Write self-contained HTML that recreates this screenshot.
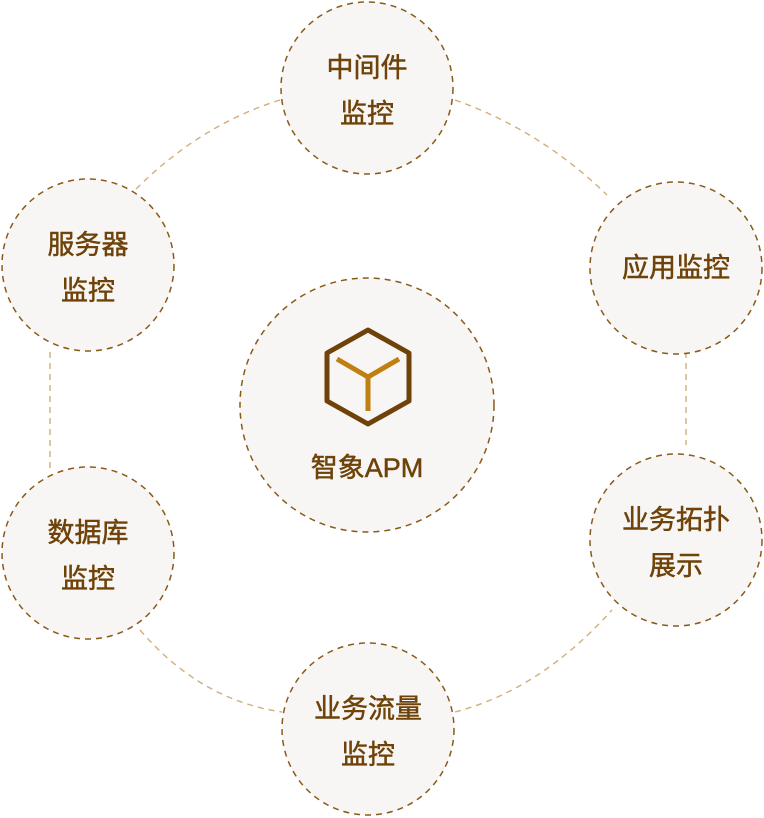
<!DOCTYPE html>
<html><head><meta charset="utf-8"><style>
body{margin:0;background:#fff;width:764px;height:818px;overflow:hidden}
svg{display:block}
text{font-family:"Liberation Sans","Noto Sans CJK SC",sans-serif;fill:#6e4208;font-size:27px;text-anchor:middle;stroke:#6e4208;stroke-width:0.5}
</style></head><body>
<svg width="764" height="818" viewBox="0 0 764 818">
<g fill="none" stroke="#d2ae78" stroke-width="1.4" stroke-dasharray="6 5">
<path d="M280 100 Q200 125 135 190"/>
<path d="M455 100 Q540 130 607 195"/>
<path d="M686 352 L686 445"/>
<path d="M50 352 L50 470"/>
<path d="M140 630 Q200 700 282 712"/>
<path d="M455 712 Q540 690 612 610"/>
</g>
<g fill="#f8f6f4" stroke="#8a5a1a" stroke-width="1.5" stroke-dasharray="6 5">
<circle cx="367" cy="88" r="86"/>
<circle cx="88" cy="265" r="86"/>
<circle cx="676" cy="268" r="86"/>
<circle cx="88" cy="553" r="86"/>
<circle cx="676" cy="540" r="86"/>
<circle cx="368" cy="729" r="86"/>
<circle cx="367" cy="405" r="127"/>
</g>
<polygon points="368,330 409,353 409,401 368,424 327,401 327,353" fill="none" stroke="#6e4208" stroke-width="5" stroke-linejoin="round"/>
<g stroke="#c07f10" stroke-width="5" fill="none"><path d="M337 359 L368 377 L399 359 M368 377 L368 411"/></g>
<text x="367" y="477" font-size="28">智象APM</text>
<text x="367" y="77">中间件</text><text x="367" y="123">监控</text>
<text x="88" y="254">服务器</text><text x="88" y="300">监控</text>
<text x="676" y="277">应用监控</text>
<text x="88" y="542">数据库</text><text x="88" y="588">监控</text>
<text x="676" y="529">业务拓扑</text><text x="676" y="575">展示</text>
<text x="368" y="718">业务流量</text><text x="368" y="764">监控</text>
</svg>
</body></html>
